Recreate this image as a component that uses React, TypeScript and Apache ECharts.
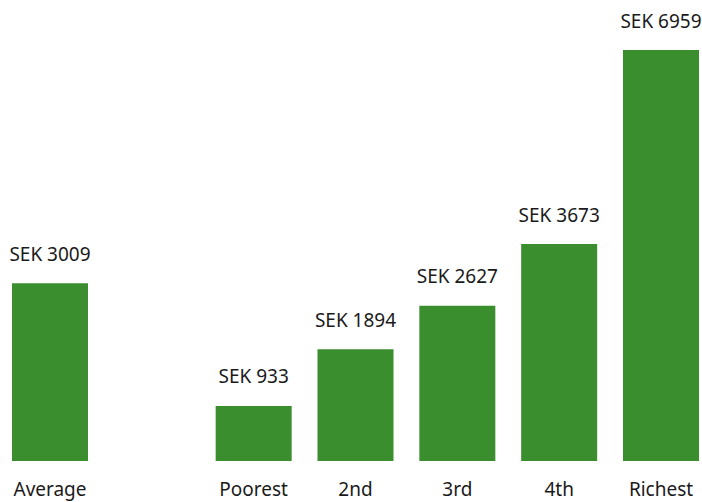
import React, { useEffect, useRef } from "react";
import * as echarts from "echarts";

const categories = ["Average", "", "Poorest", "2nd", "3rd", "4th", "Richest"];
const values: (number | null)[] = [3009, null, 933, 1894, 2627, 3673, 6959];
const labelPrefix = "SEK ";

export default function App() {
  const ref = useRef<HTMLDivElement>(null);
  useEffect(() => {
    if (!ref.current) return;
    const chart = echarts.init(ref.current, null, { renderer: "svg" });
    chart.setOption({
      animation: false,
      backgroundColor: "#ffffff",
      grid: { left: 50, right: 41, top: 50, bottom: 41 },
      xAxis: {
        type: "category",
        data: categories,
        boundaryGap: false,
        axisLine: { show: false },
        axisTick: { show: false },
        splitLine: { show: false },
        axisLabel: {
          interval: 0,
          margin: 19,
          lineHeight: 18,
          color: "#1a1a1a",
          fontFamily: "Noto Sans",
          fontSize: 19,
        },
      },
      yAxis: {
        type: "value",
        min: 0,
        max: 6959,
        show: false,
        splitLine: { show: false },
      },
      series: [
        {
          type: "bar",
          data: values,
          barWidth: 76,
          clip: false,
          itemStyle: { color: "#3a8e2e" },
          label: {
            show: true,
            position: "top",
            distance: 20,
            color: "#1a1a1a",
            fontFamily: "Noto Sans",
            fontSize: 19,
            formatter: (p: any) => labelPrefix + p.value,
          },
        },
      ],
    });
    return () => chart.dispose();
  }, []);
  return (
    <div
      ref={ref}
      style={{ position: "absolute", left: 0, top: 0, width: 702, height: 502 }}
    />
  );
}
